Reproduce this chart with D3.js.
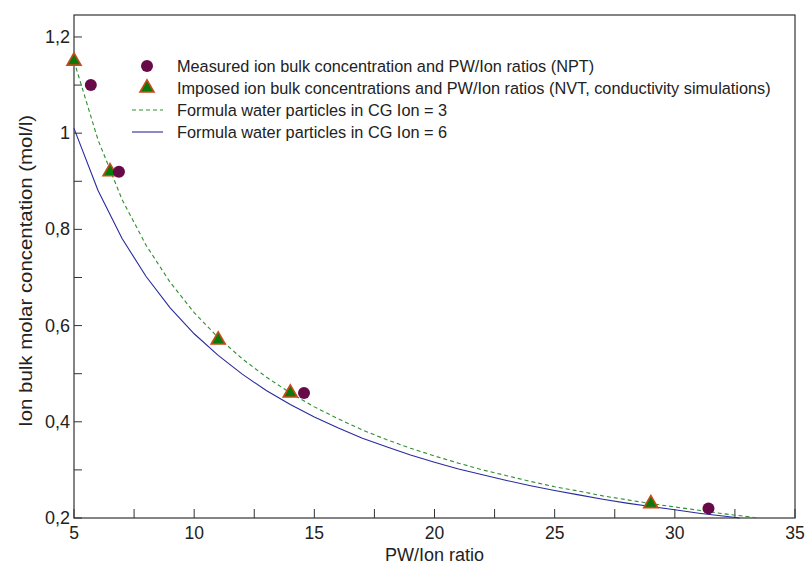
<!DOCTYPE html>
<html>
<head>
<meta charset="utf-8">
<script src="https://cdn.jsdelivr.net/npm/d3@7"></script>
<style>
  body { margin: 0; background: #fff; }
  svg text { font-family: "Liberation Sans", Arial, sans-serif; fill: #222; }
</style>
</head>
<body>
<div id="chart"></div>
<script>
// Measured (NPT) points
const measuredX = [5.7, 6.87, 14.57, 31.4];
const measuredY = [1.10, 0.92, 0.46, 0.22];

// Imposed (NVT) points
const imposedX = [5, 6.5, 11, 14, 29];
const imposedY = [1.15, 0.92, 0.57, 0.46, 0.23];

// Formula curve, CG Ion = 3 (dashed green)
const curve3X = [5, 6, 7, 8, 9, 10, 11, 12, 13, 14, 15, 16, 17, 18, 19, 20, 21, 22, 23, 24, 25, 26, 27, 28, 29, 30, 31, 32, 33, 33.5];
const curve3Y = [1.15, 0.986, 0.862, 0.767, 0.69, 0.627, 0.575, 0.531, 0.493, 0.46, 0.431, 0.406, 0.383, 0.363, 0.345, 0.329, 0.314, 0.300, 0.288, 0.276, 0.265, 0.256, 0.246, 0.238, 0.23, 0.223, 0.216, 0.209, 0.203, 0.2];

// Formula curve, CG Ion = 6 (solid blue)
const curve6X = [5, 6, 7, 8, 9, 10, 11, 12, 13, 14, 15, 16, 17, 18, 19, 20, 21, 22, 23, 24, 25, 26, 27, 28, 29, 30, 31, 32, 32.7];
const curve6Y = [1.01, 0.881, 0.781, 0.702, 0.637, 0.583, 0.538, 0.499, 0.465, 0.436, 0.410, 0.387, 0.366, 0.348, 0.331, 0.316, 0.302, 0.290, 0.278, 0.267, 0.257, 0.248, 0.239, 0.231, 0.224, 0.217, 0.210, 0.204, 0.2];

const xTicks = [5, 10, 15, 20, 25, 30, 35];
const yTicks = [0.2, 0.4, 0.6, 0.8, 1.0, 1.2];

const legendLabels = [
  'Measured ion bulk concentration and PW/Ion ratios (NPT)',
  'Imposed ion bulk concentrations and PW/Ion ratios (NVT, conductivity simulations)',
  'Formula water particles in CG Ion = 3',
  'Formula water particles in CG Ion = 6'
];

const W = 807, H = 564;
const margin = { top: 15, right: 12, bottom: 46, left: 74 };
const width = W - margin.left - margin.right;
const height = H - margin.top - margin.bottom;

const svg = d3.select('#chart').append('svg')
    .attr('width', W)
    .attr('height', H);

const g = svg.append('g')
    .attr('transform', `translate(${margin.left},${margin.top})`);

const x = d3.scaleLinear().domain([5, 35]).range([0, width]);
const y = d3.scaleLinear().domain([0.2, 1.2457]).range([height, 0]);

const fmt = d => d3.format('.1f')(d).replace('.0', '').replace('.', ',');

// frame
g.append('rect')
    .attr('width', width).attr('height', height)
    .attr('fill', 'none').attr('stroke', '#333').attr('stroke-width', 1.2);

// inward ticks, minor ones included
const xAll = d3.range(5, 35.01, 2.5);
const yAll = d3.range(0.2, 1.201, 0.1);
g.append('g').selectAll('line').data(xAll).enter().append('line')
    .attr('x1', d => x(d)).attr('x2', d => x(d))
    .attr('y1', height).attr('y2', height - 9)
    .attr('stroke', '#333');
g.append('g').selectAll('line').data(yAll).enter().append('line')
    .attr('y1', d => y(d)).attr('y2', d => y(d))
    .attr('x1', 0).attr('x2', 8)
    .attr('stroke', '#333');

// tick labels
g.append('g').selectAll('text').data(xTicks).enter().append('text')
    .attr('x', d => x(d)).attr('y', height + 21)
    .attr('text-anchor', 'middle')
    .style('font-size', '17.5px')
    .text(d => d);
g.append('g').selectAll('text').data(yTicks).enter().append('text')
    .attr('x', -4).attr('y', d => y(d) + 6)
    .attr('text-anchor', 'end')
    .style('font-size', '18px')
    .text(d => fmt(d));

// axis titles
g.append('text')
    .attr('x', x(20)).attr('y', height + 43)
    .attr('text-anchor', 'middle')
    .style('font-size', '18px')
    .text('PW/Ion ratio');
g.append('text')
    .attr('transform', `translate(-42, 256) rotate(-90)`)
    .attr('text-anchor', 'middle')
    .attr('textLength', 312)
    .attr('lengthAdjust', 'spacingAndGlyphs')
    .style('font-size', '18px')
    .text('Ion bulk molar concentation (mol/l)');

// curves
const line = d3.line().x(d => x(d[0])).y(d => y(d[1]));
g.append('path')
    .datum(d3.zip(curve6X, curve6Y))
    .attr('d', line)
    .attr('fill', 'none').attr('stroke', '#2a2aa0').attr('stroke-width', 1.1);
g.append('path')
    .datum(d3.zip(curve3X, curve3Y))
    .attr('d', line)
    .attr('fill', 'none').attr('stroke', '#2f8f2f').attr('stroke-width', 1.1)
    .attr('stroke-dasharray', '4,3');

// markers
const tri = d3.symbol().type(d3.symbolTriangle).size(85);
g.append('g').selectAll('path').data(d3.zip(imposedX, imposedY)).enter().append('path')
    .attr('d', tri)
    .attr('transform', d => `translate(${x(d[0])},${y(d[1])})`)
    .attr('fill', '#0a7a0a').attr('stroke', '#c84a1a').attr('stroke-width', 1.6);
g.append('g').selectAll('circle').data(d3.zip(measuredX, measuredY)).enter().append('circle')
    .attr('cx', d => x(d[0])).attr('cy', d => y(d[1]))
    .attr('r', 6)
    .attr('fill', '#660a48');

// legend
const leg = svg.append('g');
const rowY = i => 66 + i * 22;
leg.append('circle').attr('cx', 147).attr('cy', rowY(0)).attr('r', 6).attr('fill', '#660a48');
leg.append('path').attr('d', tri)
    .attr('transform', `translate(147,${rowY(1)})`)
    .attr('fill', '#0a7a0a').attr('stroke', '#c84a1a').attr('stroke-width', 1.6);
leg.append('line').attr('x1', 132).attr('x2', 163).attr('y1', rowY(2)).attr('y2', rowY(2))
    .attr('stroke', '#2f8f2f').attr('stroke-width', 1.1).attr('stroke-dasharray', '4,3');
leg.append('line').attr('x1', 132).attr('x2', 163).attr('y1', rowY(3)).attr('y2', rowY(3))
    .attr('stroke', '#2a2aa0').attr('stroke-width', 1.1);
leg.selectAll('text').data(legendLabels).enter().append('text')
    .attr('x', 177).attr('y', (d, i) => rowY(i) + 5.5)
    .style('font-size', '16.3px')
    .text(d => d);
</script>
</body>
</html>
